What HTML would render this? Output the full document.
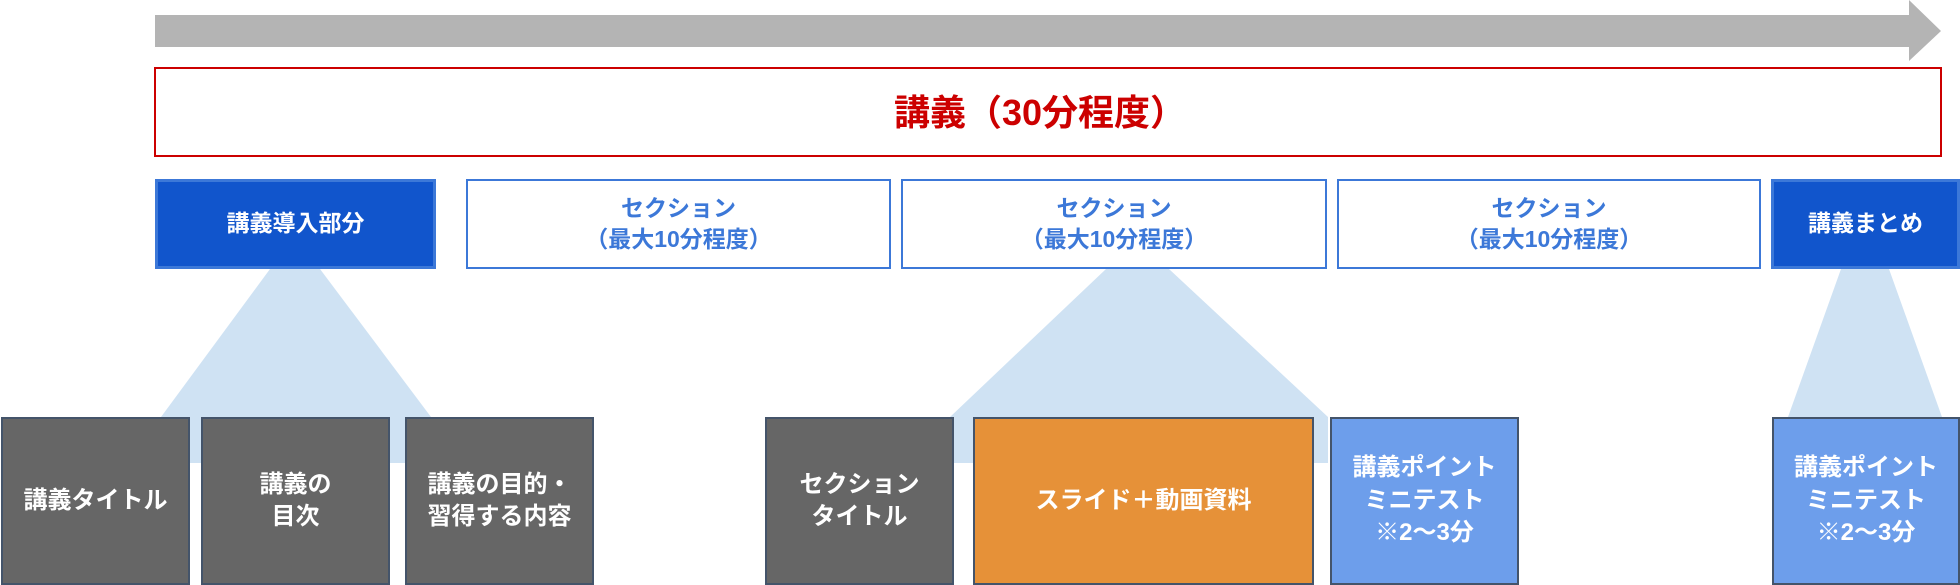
<!DOCTYPE html>
<html><head><meta charset="utf-8"><style>
body{margin:0;width:1960px;height:585px;background:#fff;position:relative;overflow:hidden;font-family:"Liberation Sans","Noto Sans CJK JP",sans-serif;font-weight:bold}
.b{position:absolute;box-sizing:border-box;display:flex;align-items:center;justify-content:center;text-align:center;line-height:1.35}
.top{top:179px;height:90px;font-size:23px}
.blue{background:#1155cc;border:3px solid #3c78d8;color:#fff}
.sec{background:#fff;border:2px solid #3c78d8;color:#3c78d8}
.bot{top:417px;height:168px;font-size:24px;color:#fff;border:2px solid #44546a}
.g{background:#666}
.o{background:#e69138}
.l{background:#6d9eeb}
</style></head><body>
<svg width="1960" height="585" style="position:absolute;left:0;top:0">
<polygon points="155,15 1909,15 1909,0 1941,31 1909,61 1909,47 155,47" fill="#b4b4b4"/>
<rect x="155" y="68" width="1786" height="88" fill="none" stroke="#cc0000" stroke-width="2"/>
<text x="1040" y="125" text-anchor="middle" font-size="36" fill="#cc0000" font-weight="bold" font-family="Liberation Sans, Noto Sans CJK JP, sans-serif">講義（30分程度）</text>
<polygon points="270,269 320,269 431,417 431,463 161,463 161,417" fill="#cfe2f3"/>
<polygon points="1106,269 1169,269 1328,417 1328,463 950,463 950,417" fill="#cfe2f3"/>
<polygon points="1841,269 1889,269 1942,417 1788,417" fill="#cfe2f3"/>
</svg>
<div class="b top blue" style="left:155px;width:281px">講義導入部分</div>
<div class="b top sec" style="left:466px;width:425px">セクション<br>（最大10分程度）</div>
<div class="b top sec" style="left:901px;width:426px">セクション<br>（最大10分程度）</div>
<div class="b top sec" style="left:1337px;width:424px">セクション<br>（最大10分程度）</div>
<div class="b top blue" style="left:1771px;width:189px">講義まとめ</div>
<div class="b bot g" style="left:1px;width:189px">講義タイトル</div>
<div class="b bot g" style="left:201px;width:189px">講義の<br>目次</div>
<div class="b bot g" style="left:405px;width:189px">講義の目的・<br>習得する内容</div>
<div class="b bot g" style="left:765px;width:189px">セクション<br>タイトル</div>
<div class="b bot o" style="left:973px;width:341px">スライド＋動画資料</div>
<div class="b bot l" style="left:1330px;width:189px">講義ポイント<br>ミニテスト<br>※2〜3分</div>
<div class="b bot l" style="left:1772px;width:188px">講義ポイント<br>ミニテスト<br>※2〜3分</div>
</body></html>
